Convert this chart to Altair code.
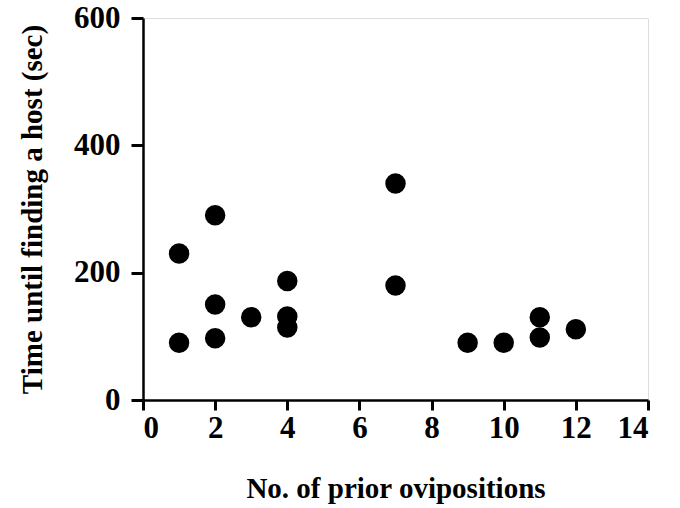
import altair as alt
import pandas as pd

ovipositions = [1, 1, 2, 2, 2, 3, 4, 4, 4, 7, 7, 9, 10, 11, 11, 12]
time_sec = [230, 90, 290, 150, 97, 130, 187, 131, 114, 340, 180, 90, 90, 130, 98, 111]

df = pd.DataFrame({"x": ovipositions, "y": time_sec})

FONT = "Liberation Serif"

chart = alt.Chart(df).mark_circle(size=420, color="black", opacity=1).encode(
    x=alt.X("x:Q", scale=alt.Scale(domain=[0, 14], nice=False, zero=False),
            axis=alt.Axis(title="No. of prior ovipositions", values=[0, 2, 4, 6, 8, 10, 12, 14],
                          grid=False, tickSize=10, tickWidth=3, domainWidth=2.5,
                          domainColor="black", tickColor="black",
                          labelFont=FONT, labelFontSize=31, labelFontWeight="bold",
                          labelColor="black", labelPadding=3,
                          titleFont=FONT, titleFontSize=29, titleFontWeight="bold",
                          titleColor="black", titlePadding=31)),
    y=alt.Y("y:Q", scale=alt.Scale(domain=[0, 600], nice=False, zero=False),
            axis=alt.Axis(title="Time until finding a host (sec)", values=[0, 200, 400, 600],
                          grid=False, tickSize=12, tickWidth=3, domainWidth=2.5,
                          domainColor="black", tickColor="black",
                          labelFont=FONT, labelFontSize=31, labelFontWeight="bold",
                          labelColor="black", labelPadding=11,
                          titleFont=FONT, titleFontSize=29, titleFontWeight="bold",
                          titleColor="black", titlePadding=26)),
).properties(
    width=505, height=382,
    autosize=alt.AutoSizeParams(type="none"),
    padding={"left": 143, "top": 18, "right": 32, "bottom": 108},
).configure_view(
    stroke="black", strokeWidth=2.5
).configure(background="white")

chart.save("out.html", embed_options={"renderer": "svg", "actions": False})
